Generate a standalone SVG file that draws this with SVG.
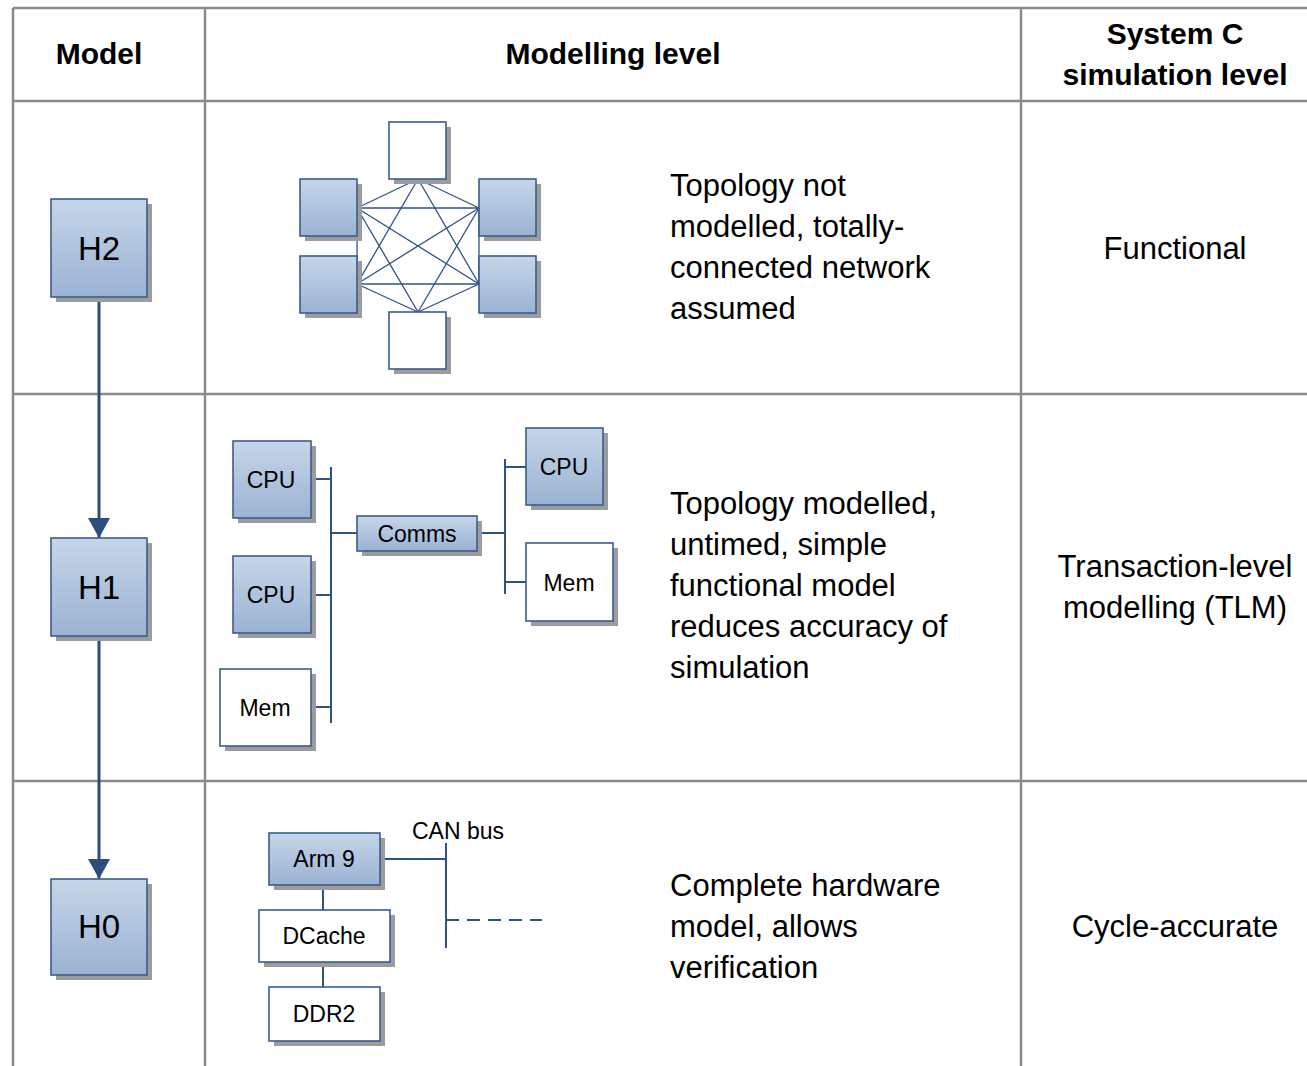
<svg xmlns="http://www.w3.org/2000/svg" width="1307" height="1066" viewBox="0 0 1307 1066">
  <style>
    .grid { stroke: #8a8a8a; stroke-width: 2.5; fill: none; }
    .blue { fill: url(#blueGrad); stroke: #3a5d8c; stroke-width: 1.6; }
    .white { fill: #ffffff; stroke: #3a5d8c; stroke-width: 1.6; }
    .shadow { fill: #9c9c9c; }
    .wire { stroke: #2f5287; stroke-width: 2; fill: none; }
    .mesh { stroke: #2f5287; stroke-width: 1.3; fill: none; }
    .arrow { stroke: #2b4e7e; stroke-width: 3; fill: none; }
    .hdr { font-family: "Liberation Sans", Arial, sans-serif; font-weight: bold; font-size: 30px; fill: #000; text-anchor: middle; }
    .body { font-family: "Liberation Sans", Arial, sans-serif; font-size: 31px; fill: #000; }
    .mid { text-anchor: middle; }
    .hlab { font-family: "Liberation Sans", Arial, sans-serif; font-size: 33px; fill: #000; text-anchor: middle; }
    .blab { font-family: "Liberation Sans", Arial, sans-serif; font-size: 23px; fill: #000; text-anchor: middle; }
  </style>
  <defs>
    <linearGradient id="blueGrad" x1="0" y1="0" x2="0" y2="1">
      <stop offset="0" stop-color="#c6d6e9"/>
      <stop offset="1" stop-color="#9bb2d3"/>
    </linearGradient>
    <marker id="arrowHead" markerWidth="22" markerHeight="22" refX="20" refY="11" orient="auto" markerUnits="userSpaceOnUse">
      <path d="M0,0 L20,11 L0,22 Z" fill="#2b4e7e"/>
    </marker>
  </defs>

  <rect x="0" y="0" width="1307" height="1066" fill="#ffffff"/>

  <!-- table grid -->
  <g id="table">
    <line class="grid" x1="13" y1="8" x2="1307" y2="8"/>
    <line class="grid" x1="13" y1="8" x2="13" y2="1066"/>
    <line class="grid" x1="205" y1="8" x2="205" y2="1066"/>
    <line class="grid" x1="1021" y1="8" x2="1021" y2="1066"/>
    <line class="grid" x1="13" y1="101" x2="1307" y2="101"/>
    <line class="grid" x1="13" y1="394" x2="1307" y2="394"/>
    <line class="grid" x1="13" y1="781" x2="1307" y2="781"/>
  </g>

  <!-- headers -->
  <g id="headers">
    <text class="hdr" x="99" y="64" font-size="31">Model</text>
    <text class="hdr" x="613" y="64">Modelling level</text>
    <text class="hdr" x="1175" y="44">System C</text>
    <text class="hdr" x="1175" y="85">simulation level</text>
  </g>

  <!-- connectors -->
  <g id="connectors">
    <line class="arrow" x1="99" y1="297" x2="99" y2="538" marker-end="url(#arrowHead)"/>
    <line class="arrow" x1="99" y1="636" x2="99" y2="879" marker-end="url(#arrowHead)"/>

    <!-- mesh -->
    <g class="mesh">
      <line x1="418" y1="179" x2="357" y2="208"/>
      <line x1="418" y1="179" x2="479" y2="208"/>
      <line x1="418" y1="179" x2="357" y2="284"/>
      <line x1="418" y1="179" x2="479" y2="284"/>
      <line x1="418" y1="312" x2="357" y2="208"/>
      <line x1="418" y1="312" x2="479" y2="208"/>
      <line x1="418" y1="312" x2="357" y2="284"/>
      <line x1="418" y1="312" x2="479" y2="284"/>
      <line x1="357" y1="208" x2="479" y2="208"/>
      <line x1="357" y1="284" x2="479" y2="284"/>
      <line x1="357" y1="208" x2="479" y2="284"/>
      <line x1="357" y1="284" x2="479" y2="208"/>
      <line x1="357" y1="208" x2="357" y2="284"/>
      <line x1="479" y1="208" x2="479" y2="284"/>
    </g>

    <!-- H1 buses -->
    <line class="wire" x1="331" y1="467" x2="331" y2="723"/>
    <line class="wire" x1="311" y1="479" x2="331" y2="479"/>
    <line class="wire" x1="311" y1="595" x2="331" y2="595"/>
    <line class="wire" x1="311" y1="707" x2="331" y2="707"/>
    <line class="wire" x1="331" y1="533" x2="357" y2="533"/>
    <line class="wire" x1="477" y1="533" x2="505" y2="533"/>
    <line class="wire" x1="505" y1="459" x2="505" y2="594"/>
    <line class="wire" x1="505" y1="467" x2="526" y2="467"/>
    <line class="wire" x1="505" y1="582" x2="526" y2="582"/>

    <!-- H0 -->
    <line class="wire" x1="323" y1="885" x2="323" y2="910"/>
    <line class="wire" x1="323" y1="962" x2="323" y2="987"/>
    <line class="wire" x1="380" y1="859" x2="446" y2="859"/>
    <line class="wire" x1="446" y1="843" x2="446" y2="948"/>
    <line class="wire" x1="446" y1="920" x2="542" y2="920" stroke-dasharray="13 8"/>
  </g>

  <!-- model nodes -->
  <g id="node-H2">
    <rect class="shadow" x="56" y="204" width="96" height="98"/>
    <rect class="blue" x="51" y="199" width="96" height="98"/>
    <text class="hlab" x="99" y="260">H2</text>
  </g>
  <g id="node-H1">
    <rect class="shadow" x="56" y="543" width="96" height="98"/>
    <rect class="blue" x="51" y="538" width="96" height="98"/>
    <text class="hlab" x="99" y="599">H1</text>
  </g>
  <g id="node-H0">
    <rect class="shadow" x="56" y="884" width="96" height="96"/>
    <rect class="blue" x="51" y="879" width="96" height="96"/>
    <text class="hlab" x="99" y="938">H0</text>
  </g>

  <!-- mesh nodes -->
  <g id="mesh-top">
    <rect class="shadow" x="394" y="127" width="57" height="57"/>
    <rect class="white" x="389" y="122" width="57" height="57"/>
  </g>
  <g id="mesh-left-top">
    <rect class="shadow" x="305" y="184" width="57" height="57"/>
    <rect class="blue" x="300" y="179" width="57" height="57"/>
  </g>
  <g id="mesh-left-bottom">
    <rect class="shadow" x="305" y="261" width="57" height="57"/>
    <rect class="blue" x="300" y="256" width="57" height="57"/>
  </g>
  <g id="mesh-right-top">
    <rect class="shadow" x="484" y="184" width="57" height="57"/>
    <rect class="blue" x="479" y="179" width="57" height="57"/>
  </g>
  <g id="mesh-right-bottom">
    <rect class="shadow" x="484" y="261" width="57" height="57"/>
    <rect class="blue" x="479" y="256" width="57" height="57"/>
  </g>
  <g id="mesh-bottom">
    <rect class="shadow" x="394" y="317" width="57" height="57"/>
    <rect class="white" x="389" y="312" width="57" height="57"/>
  </g>

  <!-- H1 nodes -->
  <g id="cpu-1">
    <rect class="shadow" x="238" y="446" width="78" height="77"/>
    <rect class="blue" x="233" y="441" width="78" height="77"/>
    <text class="blab" x="271" y="488">CPU</text>
  </g>
  <g id="cpu-2">
    <rect class="shadow" x="238" y="561" width="78" height="77"/>
    <rect class="blue" x="233" y="556" width="78" height="77"/>
    <text class="blab" x="271" y="603">CPU</text>
  </g>
  <g id="mem-left">
    <rect class="shadow" x="225" y="674" width="91" height="77"/>
    <rect class="white" x="220" y="669" width="91" height="77"/>
    <text class="blab" x="265" y="716" font-size="24">Mem</text>
  </g>
  <g id="comms">
    <rect class="shadow" x="362" y="521" width="120" height="35"/>
    <rect class="blue" x="357" y="516" width="120" height="35"/>
    <text class="blab" x="417" y="542" font-size="24">Comms</text>
  </g>
  <g id="cpu-right">
    <rect class="shadow" x="531" y="433" width="77" height="77"/>
    <rect class="blue" x="526" y="428" width="77" height="77"/>
    <text class="blab" x="564" y="475">CPU</text>
  </g>
  <g id="mem-right">
    <rect class="shadow" x="531" y="548" width="87" height="78"/>
    <rect class="white" x="526" y="543" width="87" height="78"/>
    <text class="blab" x="569" y="591" font-size="24">Mem</text>
  </g>

  <!-- H0 nodes -->
  <g id="arm9">
    <rect class="shadow" x="274" y="838" width="111" height="52"/>
    <rect class="blue" x="269" y="833" width="111" height="52"/>
    <text class="blab" x="324" y="867" font-size="24">Arm 9</text>
  </g>
  <g id="dcache">
    <rect class="shadow" x="264" y="915" width="131" height="52"/>
    <rect class="white" x="259" y="910" width="131" height="52"/>
    <text class="blab" x="324" y="944">DCache</text>
  </g>
  <g id="ddr2">
    <rect class="shadow" x="274" y="992" width="111" height="54"/>
    <rect class="white" x="269" y="987" width="111" height="54"/>
    <text class="blab" x="324" y="1022">DDR2</text>
  </g>
  <text class="blab" x="458" y="839">CAN bus</text>

  <!-- descriptions -->
  <g id="desc-H2">
    <text class="body" x="670" y="196">Topology not</text>
    <text class="body" x="670" y="237">modelled, totally-</text>
    <text class="body" x="670" y="278">connected network</text>
    <text class="body" x="670" y="319">assumed</text>
  </g>
  <g id="desc-H1">
    <text class="body" x="670" y="514">Topology modelled,</text>
    <text class="body" x="670" y="555">untimed, simple</text>
    <text class="body" x="670" y="596">functional model</text>
    <text class="body" x="670" y="637">reduces accuracy of</text>
    <text class="body" x="670" y="678">simulation</text>
  </g>
  <g id="desc-H0">
    <text class="body" x="670" y="896">Complete hardware</text>
    <text class="body" x="670" y="937">model, allows</text>
    <text class="body" x="670" y="978">verification</text>
  </g>

  <!-- simulation levels -->
  <g id="levels">
    <text class="body mid" x="1175" y="259">Functional</text>
    <text class="body mid" x="1175" y="577">Transaction-level</text>
    <text class="body mid" x="1175" y="618">modelling (TLM)</text>
    <text class="body mid" x="1175" y="937">Cycle-accurate</text>
  </g>
</svg>
